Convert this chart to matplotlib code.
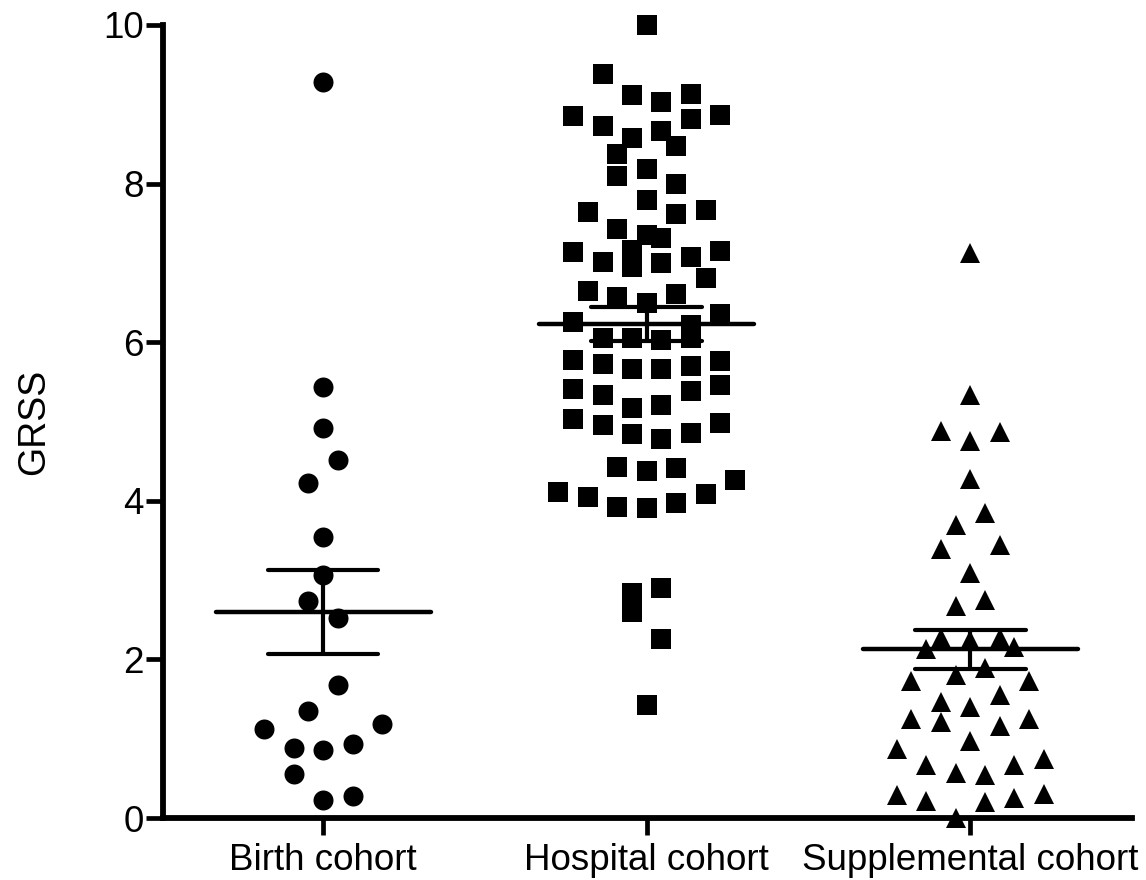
import matplotlib
matplotlib.use("Agg")
import matplotlib.pyplot as plt
import numpy as np

plt.rcParams['font.family'] = ['Liberation Sans', 'DejaVu Sans']

categories = ["Birth cohort", "Hospital cohort", "Supplemental cohort"]

# GRSS values, with their swarm column slot
birth_values = [9.28, 5.43, 4.92, 4.51, 4.22, 3.54, 3.06, 2.74, 2.52, 1.68,
                1.35, 1.12, 1.19, 0.88, 0.86, 0.93, 0.55, 0.23, 0.28]
birth_slots = [0, 0, 0, 1, -1, 0, 0, -1, 1, 1,
               -1, -4, 4, -2, 0, 2, -2, 0, 2]

hospital_values = [10.0, 9.38, 9.12, 9.03, 9.13, 8.85, 8.73, 8.58, 8.66, 8.81,
                   8.87, 8.37, 8.47, 8.10, 8.18, 7.99, 7.64, 7.79, 7.62, 7.67,
                   7.43, 7.35, 7.31, 7.16, 7.14, 7.01, 6.95, 7.00, 7.07, 7.15,
                   6.81, 6.65, 6.57, 6.61, 6.49, 6.36, 6.26, 6.22, 6.05, 6.05,
                   6.03, 6.05, 5.78, 5.73, 5.66, 5.66, 5.70, 5.76, 5.41, 5.33,
                   5.17, 5.21, 5.38, 5.46, 5.03, 4.96, 4.98, 4.84, 4.78, 4.85,
                   4.43, 4.38, 4.41, 4.11, 4.05, 3.92, 3.91, 3.97, 4.09, 4.26,
                   2.84, 2.60, 2.90, 2.26, 1.43]
hospital_slots = [0, -3, -1, 1, 3, -5, -3, -1, 1, 3,
                  5, -2, 2, -2, 0, 2, -4, 0, 2, 4,
                  -2, 0, 1, -1, -5, -3, -1, 1, 3, 5,
                  4, -4, -2, 2, 0, 5, -5, 3, -3, -1,
                  1, 3, -5, -3, -1, 1, 3, 5, -5, -3,
                  -1, 1, 3, 5, -5, -3, 5, -1, 1, 3,
                  -2, 0, 2, -6, -4, -2, 0, 2, 4, 6,
                  -1, -1, 1, 1, 0]

supplemental_values = [7.12, 5.33, 4.88, 4.75, 4.87, 4.27, 3.85, 3.69, 3.39, 3.44,
                       3.09, 2.67, 2.75, 2.27, 2.25, 2.27, 2.13, 2.16, 1.80, 1.89,
                       1.73, 1.73, 1.46, 1.40, 1.55, 1.25, 1.21, 1.16, 1.25, 0.97,
                       0.87, 0.67, 0.57, 0.54, 0.67, 0.74, 0.29, 0.21, 0.20, 0.25,
                       0.30, 0.0]
supplemental_slots = [0, 0, -2, 0, 2, 0, 1, -1, -2, 2,
                      0, -1, 1, -2, 0, 2, -3, 3, -1, 1,
                      -4, 4, -2, 0, 2, -4, -2, 2, 4, 0,
                      -5, -3, -1, 1, 3, 5, -5, -3, 1, 3,
                      5, -1]

# mean and SEM
means = [2.60, 6.23, 2.13]
sems = [0.53, 0.21, 0.245]

y_ticks = [0, 2, 4, 6, 8, 10]
y_label = "GRSS"

groups = [(birth_values, birth_slots, 'o', 14.4),
          (hospital_values, hospital_slots, 's', 13.8),
          (supplemental_values, supplemental_slots, '^', 14.0)]

fig = plt.figure(figsize=(11.46, 8.8), dpi=100)
ax = fig.add_axes([163/1146, 62/880, (1132-163)/1146, (818-25)/880])

slot_step = 0.0455
for i, (vals, slots, mk, ms) in enumerate(groups):
    xs = i + np.array(slots) * slot_step
    ax.plot(xs, vals, linestyle='none', marker=mk, markersize=ms,
            color='black', markeredgewidth=0, clip_on=False, zorder=3)

mean_half = 0.332
sem_half = 0.171
for i, (m, s) in enumerate(zip(means, sems)):
    ax.hlines(m, i - mean_half, i + mean_half, color='black', lw=3.2, zorder=4,
              capstyle='round')
    ax.hlines([m - s, m + s], i - sem_half, i + sem_half, color='black', lw=3.0,
              zorder=4, capstyle='round')
    ax.vlines(i, m - s, m + s, color='black', lw=3.0, zorder=4)

ax.set_xlim(-0.495, 2.50)
ax.set_ylim(0, 10)
ax.set_yticks(y_ticks)
ax.set_yticklabels([str(t) for t in y_ticks])
ax.set_xticks(range(len(categories)))
ax.set_xticklabels(categories)

for side in ['top', 'right']:
    ax.spines[side].set_visible(False)
for side in ['left', 'bottom']:
    ax.spines[side].set_linewidth(4.2)
    ax.spines[side].set_capstyle('projecting')

ax.tick_params(axis='both', which='major', length=12, width=3.4,
               labelsize=26.5, color='black', labelcolor='black')
ax.tick_params(axis='y', pad=2)
ax.tick_params(axis='x', pad=6)

ax.set_ylabel(y_label, fontsize=27)
ax.yaxis.set_label_coords((52 - 163) / (1132 - 163), 0.5)

fig.savefig("out.png", dpi=100)
